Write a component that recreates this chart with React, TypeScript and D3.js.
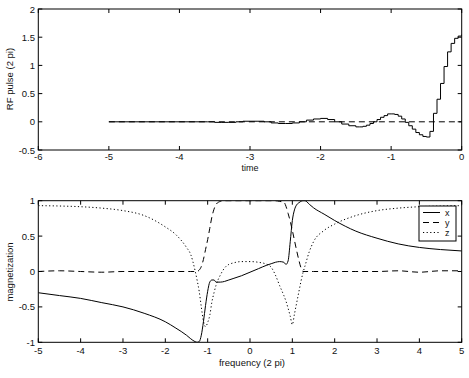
import React from "react";
import * as d3 from "d3";

// ---------- data: top panel (RF pulse, stairs) ----------
const pulseTime = [
  -5.0, -3.6, -3.5, -3.4, -3.3, -3.2, -3.1, -3.0, -2.9, -2.8, -2.7, -2.6, -2.5, -2.4, -2.3,
  -2.2, -2.1, -2.0, -1.9, -1.8, -1.7, -1.6, -1.5, -1.45, -1.4, -1.35, -1.3, -1.25, -1.2,
  -1.15, -1.1, -1.05, -1.0, -0.95, -0.9, -0.85, -0.8, -0.75, -0.7, -0.65, -0.6, -0.55,
  -0.5, -0.45, -0.4, -0.35, -0.3, -0.25, -0.2, -0.15, -0.1, -0.05, 0.0,
];
const pulseValue = [
  0.0, 0.0, -0.01, -0.01, -0.01, 0.0, 0.01, 0.01, 0.01, 0.0, -0.02, -0.03, -0.03, -0.02, 0.0,
  0.03, 0.05, 0.06, 0.04, 0.0, -0.04, -0.07, -0.09, -0.09, -0.08, -0.06, -0.03, 0.0, 0.04,
  0.08, 0.11, 0.14, 0.14, 0.13, 0.1, 0.05, -0.01, -0.07, -0.13, -0.19, -0.23, -0.26,
  -0.27, -0.17, 0.15, 0.4, 0.68, 0.98, 1.24, 1.39, 1.48, 1.52, 1.55,
];
const topXTicks = [-6, -5, -4, -3, -2, -1, 0];
const topYTicks = [-0.5, 0, 0.5, 1, 1.5, 2];
const topYTickLabels = ["-0.5", "0", "0.5", "1", "1.5", "2"];

// ---------- data: bottom panel (magnetization) ----------
const freq = [
  -5, -4.5, -4, -3.5, -3, -2.5, -2, -1.75, -1.5, -1.4, -1.3, -1.25, -1.2, -1.15, -1.1, -1.05,
  -1.0, -0.95, -0.9, -0.85, -0.8, -0.7, -0.6, -0.5, -0.4, -0.2, 0, 0.2, 0.4, 0.5, 0.6, 0.7,
  0.8, 0.85, 0.9, 0.95, 1.0, 1.05, 1.1, 1.15, 1.2, 1.25, 1.3, 1.4, 1.5, 1.75, 2, 2.5, 3, 3.5,
  4, 4.5, 5,
];
const magX = [
  -0.3, -0.34, -0.38, -0.44, -0.5, -0.59, -0.71, -0.8, -0.9, -0.95, -0.99, -1.0, -0.99, -0.9,
  -0.71, -0.48, -0.28, -0.15, -0.12, -0.12, -0.15, -0.15, -0.14, -0.12, -0.1, -0.06, -0.01,
  0.04, 0.09, 0.11, 0.13, 0.14, 0.13, 0.1, 0.15, 0.42, 0.72, 0.87, 0.94, 0.97, 0.99, 1.0, 1.0,
  0.95, 0.9, 0.81, 0.72, 0.57, 0.47, 0.39, 0.34, 0.31, 0.29,
];
const magY = [
  0.0, 0.01, 0.0, -0.01, 0.0, 0.0, 0.0, 0.0, 0.0, 0.0, 0.0, 0.0, 0.02, 0.07, 0.17, 0.31, 0.45,
  0.61, 0.77, 0.88, 0.95, 0.99, 1.0, 1.0, 1.0, 1.0, 1.0, 1.0, 1.0, 1.0, 1.0, 0.99, 0.98, 0.92,
  0.82, 0.71, 0.58, 0.44, 0.3, 0.17, 0.06, 0.0, 0.0, 0.0, 0.0, 0.0, 0.0, 0.0, 0.0, 0.01, -0.01,
  0.01, 0.01,
];
const magZ = [
  0.93, 0.925, 0.915, 0.895, 0.86, 0.79, 0.63, 0.52, 0.34, 0.24, 0.02, -0.12, -0.28, -0.5,
  -0.7, -0.78, -0.72, -0.62, -0.43, -0.3, -0.19, -0.05, 0.05, 0.1, 0.12, 0.14, 0.14, 0.13,
  0.1, 0.06, -0.05, -0.2, -0.34, -0.42, -0.52, -0.63, -0.75, -0.6, -0.45, -0.3, -0.15, -0.02,
  0.08, 0.28, 0.42, 0.58, 0.67, 0.79, 0.86, 0.895, 0.915, 0.925, 0.93,
];
const botXTicks = [-5, -4, -3, -2, -1, 0, 1, 2, 3, 4, 5];
const botYTicks = [-1, -0.5, 0, 0.5, 1];
const botYTickLabels = ["-1", "-0.5", "0", "0.5", "1"];
const legendLabels = ["x", "y", "z"];

const FONT = "'Liberation Sans', Arial, Helvetica, sans-serif";
const W = 469;
const H = 378;

type AxesProps = {
  x: d3.ScaleLinear<number, number>;
  y: d3.ScaleLinear<number, number>;
  xTicks: number[];
  yTicks: number[];
  yLabels: string[];
  xLabelY: number;
};

function Frame({ x, y, xTicks, yTicks, yLabels, xLabelY }: AxesProps) {
  const [x0, x1] = x.range();
  const [y0, y1] = y.range(); // y0 bottom, y1 top
  const tl = 4;
  return (
    <g>
      <rect x={x0} y={y1} width={x1 - x0} height={y0 - y1} fill="none" stroke="#000" strokeWidth={1} />
      {xTicks.map((t) => (
        <g key={"xt" + t}>
          <line x1={x(t)} x2={x(t)} y1={y0} y2={y0 - tl} stroke="#000" />
          <line x1={x(t)} x2={x(t)} y1={y1} y2={y1 + tl} stroke="#000" />
          <text x={x(t)} y={xLabelY} textAnchor="middle" fontSize={9.5} fontFamily={FONT} fill="#111">
            {String(t)}
          </text>
        </g>
      ))}
      {yTicks.map((t, i) => (
        <g key={"yt" + t}>
          <line x1={x0} x2={x0 + tl} y1={y(t)} y2={y(t)} stroke="#000" />
          <line x1={x1} x2={x1 - tl} y1={y(t)} y2={y(t)} stroke="#000" />
          <text x={35} y={y(t) + 3.5} textAnchor="end" fontSize={9.5} fontFamily={FONT} fill="#111">
            {yLabels[i]}
          </text>
        </g>
      ))}
    </g>
  );
}

export default function App() {
  const xTop = d3.scaleLinear().domain([-6, 0]).range([38.3, 461.7]);
  const yTop = d3.scaleLinear().domain([-0.5, 2]).range([150, 9]);
  const xBot = d3.scaleLinear().domain([-5, 5]).range([38.3, 461.7]);
  const yBot = d3.scaleLinear().domain([-1, 1]).range([342.3, 200.7]);

  const pulsePts: [number, number][] = pulseTime.map((t, i) => [t, pulseValue[i]]);
  const pulseLine = d3
    .line<[number, number]>()
    .x((d) => xTop(d[0]))
    .y((d) => yTop(d[1]))
    .curve(d3.curveStepAfter);
  const zeroLine = d3
    .line<number>()
    .x((d) => xTop(d))
    .y(() => yTop(0));

  const magLine = (vals: number[]) =>
    d3
      .line<number>()
      .x((_, i) => xBot(freq[i]))
      .y((d) => yBot(d))
      .curve(d3.curveMonotoneX)(vals) || "";

  const series = [
    { vals: magX, dash: undefined as string | undefined },
    { vals: magY, dash: "6,4" },
    { vals: magZ, dash: "1.2,2.4" },
  ];

  const lgX = 419;
  const lgY = 206;
  return (
    <svg
      width={W}
      height={H}
      viewBox={`0 0 ${W} ${H}`}
      style={{ position: "absolute", left: 0, top: 0, background: "#fff" }}
    >
      <rect x={0} y={0} width={W} height={H} fill="#fff" />
      <defs>
        <clipPath id="clipTop">
          <rect x={38.3} y={9} width={423.4} height={141} />
        </clipPath>
        <clipPath id="clipBot">
          <rect x={38.3} y={200.7} width={423.4} height={141.6} />
        </clipPath>
      </defs>
      {/* top panel */}
      <g clipPath="url(#clipTop)">
        <path d={zeroLine([-5, 0]) || ""} fill="none" stroke="#000" strokeWidth={1} strokeDasharray="6,4" />
        <path d={pulseLine(pulsePts) || ""} fill="none" stroke="#000" strokeWidth={1} />
      </g>
      <Frame x={xTop} y={yTop} xTicks={topXTicks} yTicks={topYTicks} yLabels={topYTickLabels} xLabelY={160} />
      <text x={250} y={170.5} textAnchor="middle" fontSize={9} fontFamily={FONT} fill="#111">
        time
      </text>
      <text
        transform={`translate(13,79) rotate(-90)`}
        textAnchor="middle"
        fontSize={9.5}
        fontFamily={FONT}
        fill="#111"
      >
        RF pulse (2 pi)
      </text>

      {/* bottom panel */}
      <g clipPath="url(#clipBot)">
        {series.map((s, i) => (
          <path key={i} d={magLine(s.vals)} fill="none" stroke="#000" strokeWidth={1} strokeDasharray={s.dash} />
        ))}
      </g>
      <Frame x={xBot} y={yBot} xTicks={botXTicks} yTicks={botYTicks} yLabels={botYTickLabels} xLabelY={354} />
      <text x={252} y={366} textAnchor="middle" fontSize={9.5} fontFamily={FONT} fill="#111">
        frequency (2 pi)
      </text>
      <text
        transform={`translate(13,272) rotate(-90)`}
        textAnchor="middle"
        fontSize={9.5}
        fontFamily={FONT}
        fill="#111"
      >
        magnetization
      </text>

      {/* legend */}
      <rect x={lgX} y={lgY} width={37} height={35} fill="#fff" stroke="#000" strokeWidth={1} />
      {legendLabels.map((lab, i) => (
        <g key={lab}>
          <line
            x1={lgX + 4}
            x2={lgX + 21}
            y1={lgY + 6.5 + i * 10}
            y2={lgY + 6.5 + i * 10}
            stroke="#000"
            strokeWidth={1}
            strokeDasharray={series[i].dash}
          />
          <text x={lgX + 26} y={lgY + 9.5 + i * 10} fontSize={9} fontFamily={FONT} fill="#111">
            {lab}
          </text>
        </g>
      ))}
    </svg>
  );
}
